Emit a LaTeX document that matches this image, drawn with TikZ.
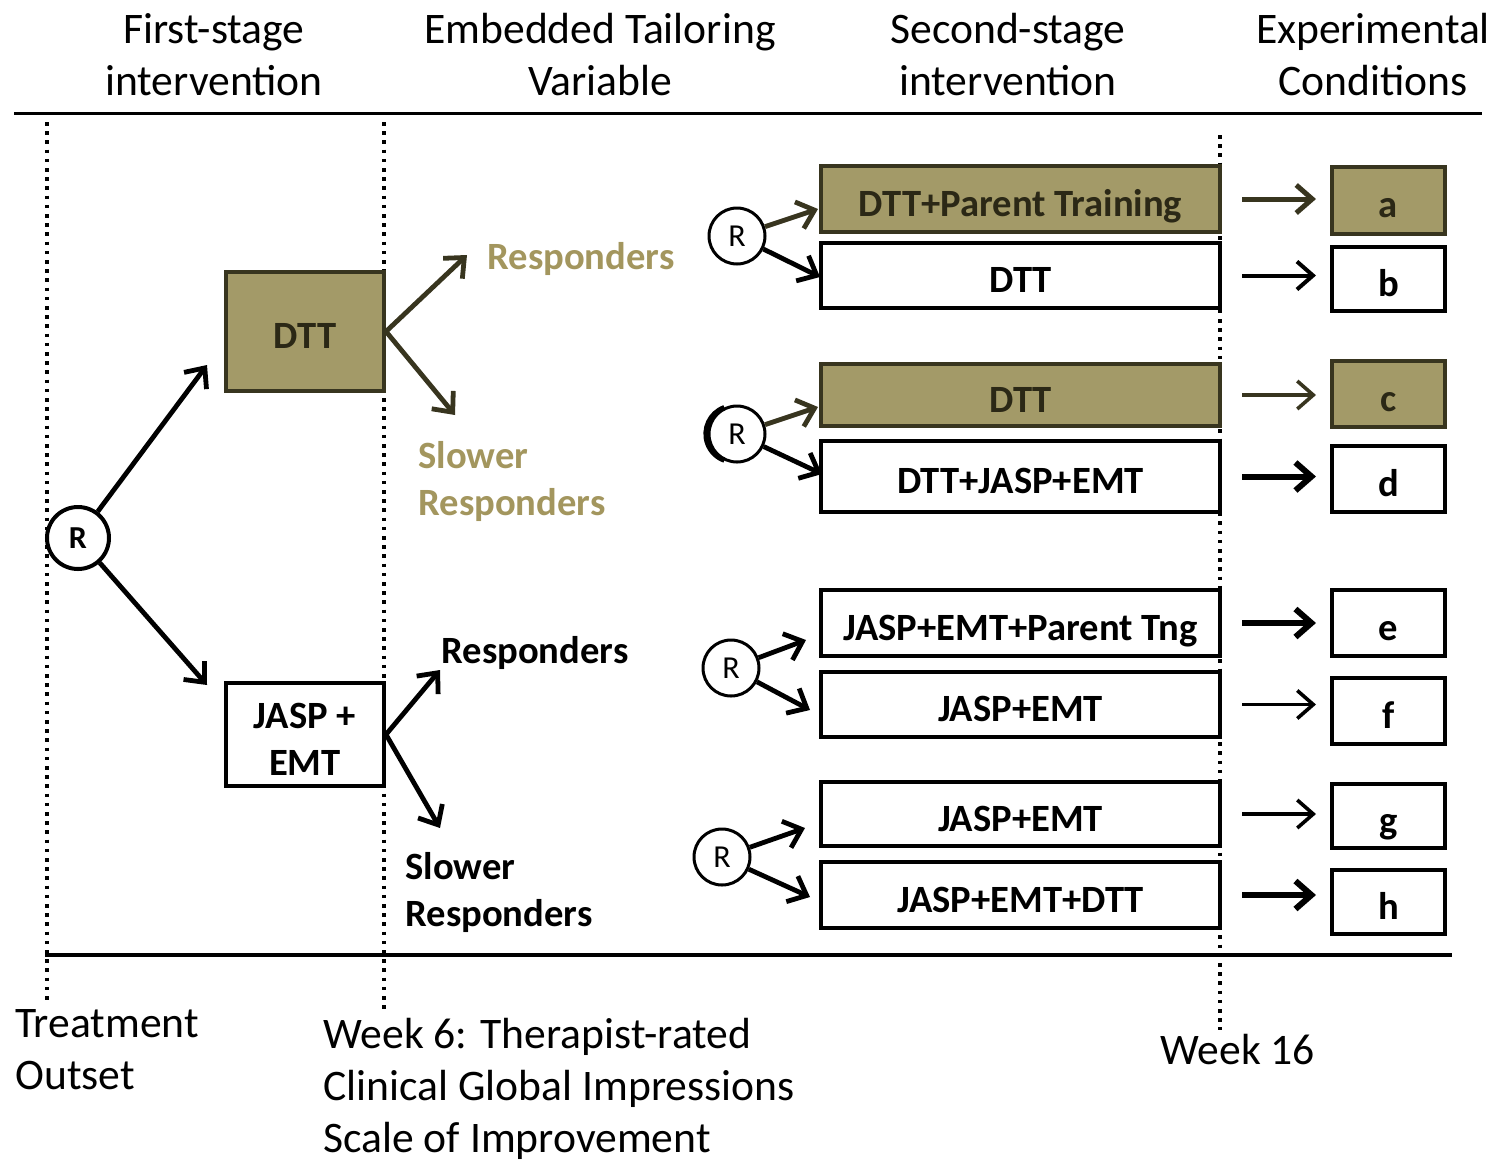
\documentclass[tikz,border=0pt]{standalone}
\usepackage{fontspec}
\setmainfont{Carlito}
\usetikzlibrary{arrows.meta,calc}
\definecolor{khaki}{HTML}{A39A68}
\definecolor{khakiline}{HTML}{38351F}
\definecolor{khakitext}{HTML}{2B2816}
\definecolor{khakilabel}{HTML}{A3965E}
\begin{document}
\begin{tikzpicture}[x=0.5pt,y=-0.5pt,
  head/.style={align=center,font=\fontsize{21.8}{26}\selectfont},
  foot/.style={align=left,anchor=west,inner sep=0pt,font=\fontsize{21.8}{26}\selectfont},
  lbl/.style={align=left,anchor=west,inner sep=0pt,font=\fontsize{19.3}{23.5}\selectfont\bfseries},
  box/.style={draw=black,line width=2pt,fill=white,inner sep=0pt,
    text height=18pt,text depth=1pt,
    font=\fontsize{19.3}{23.5}\selectfont\bfseries},
  stagebox/.style={box,minimum width=199.5pt},
  condbox/.style={box,minimum width=56.5pt},
  shaded/.style={fill=khaki,draw=khakiline,text=khakitext},
  rsmall/.style={circle,draw,fill=white,line width=1.5pt,minimum size=28pt,inner sep=0pt,
    font=\fontsize{16}{18}\selectfont},
  rbig/.style={circle,draw,fill=white,line width=2pt,minimum size=31pt,inner sep=0pt,
    font=\fontsize{16}{18}\selectfont\bfseries},
  arr/.style={line width=2.4pt,-{Straight Barb[length=8pt,width=14pt]}},
  darr/.style={arr,draw=khakiline},
  harr/.style={-{Straight Barb[length=8pt,width=14pt]},shorten <=10pt,shorten >=7pt},
  dots/.style={line width=1.8pt,dash pattern=on 1.8pt off 2.8pt}
]
\useasboundingbox (0,0) rectangle (1496,1164);

% column headings and rules
\node[head] (h1) at (214,55) {First-stage\\intervention};
\node[head] (h2) at (600,55) {Embedded Tailoring\\Variable};
\node[head] (h3) at (1008,55) {Second-stage\\intervention};
\node[head] (h4) at (1373,55) {Experimental\\Conditions};
\draw[line width=1.5pt] (14,113) -- (1482,113);
\draw[line width=2pt] (45,955) -- (1452,955);

% time markers
\draw[dots] (47,122) -- (47,1000);
\draw[dots] (384,122) -- (384,1010);
\draw[dots] (1220,135) -- (1220,1030);

% first-stage randomisation
\node[rbig] (R0) at (78,538) {R};
\node[box,shaded,minimum width=79pt,minimum height=59.5pt] (dtt) at (305,331.5) {DTT};
\node[box,minimum width=79pt,minimum height=51.5pt] (jasp) at (305,734.5) {};
\node[align=center,inner sep=0pt,font=\fontsize{19.3}{23.5}\selectfont\bfseries]
  (jasptext) at (305,739) {JASP +\\EMT};
\coordinate (t0a) at (207,365);
\coordinate (t0b) at (207,685);
\draw[arr] (R0) -- (t0a);
\draw[arr] (R0) -- (t0b);

% tailoring variable
\coordinate (ta) at (467,255);
\coordinate (tb) at (455,415);
\draw[darr] (dtt.east) -- (ta);
\draw[darr] (dtt.east) -- (tb);
\node[lbl,text=khakilabel] (resp1) at (487,259) {Responders};
\node[lbl,text=khakilabel] (slow1) at (418,481) {Slower\\Responders};
\coordinate (tc) at (440,670);
\coordinate (td) at (440,828);
\draw[arr] (jasp.east) -- (tc);
\draw[arr] (jasp.east) -- (td);
\node[lbl] (resp2) at (441,653) {Responders};
\node[lbl] (slow2) at (405,892) {Slower\\Responders};

% second-stage interventions
\node[stagebox,shaded,minimum height=33pt] (s1) at (1020.5,199) {DTT+Parent Training};
\node[stagebox,minimum height=32.5pt] (s2) at (1020.5,275.5) {DTT};
\node[stagebox,shaded,minimum height=31pt] (s3) at (1020.5,395) {DTT};
\node[stagebox,minimum height=35.5pt] (s4) at (1020.5,476.5) {DTT+JASP+EMT};
\node[stagebox,minimum height=33pt] (s5) at (1020.5,623) {JASP+EMT+Parent Tng};
\node[stagebox,minimum height=32.5pt] (s6) at (1020.5,704.5) {JASP+EMT};
\node[stagebox,minimum height=32pt] (s7) at (1020.5,814) {JASP+EMT};
\node[stagebox,minimum height=33pt] (s8) at (1020.5,895) {JASP+EMT+DTT};

% second-stage randomisations
\node[rsmall] (R1) at (737,236) {R};
\node[rsmall] (R2) at (737,434) {R};
\draw[line width=2.6pt] ($(R2.center)+(-6.3pt,13.2pt)$)
  arc[start angle=110,end angle=250,radius=14pt];
\node[rsmall] (R3) at (731,668) {R};
\node[rsmall] (R4) at (722,857) {R};

\coordinate (u1) at (818,209);
\coordinate (u2) at (820,277);
\coordinate (u3) at (818,407);
\coordinate (u4) at (822,474);
\coordinate (u5) at (806,640);
\coordinate (u6) at (810,710);
\coordinate (u7) at (805,828);
\coordinate (u8) at (810,897);
\draw[darr] (R1) -- (u1);
\draw[arr] (R1) -- (u2);
\draw[darr] (R2) -- (u3);
\draw[arr] (R2) -- (u4);
\draw[arr] (R3) -- (u5);
\draw[arr] (R3) -- (u6);
\draw[arr] (R4) -- (u7);
\draw[arr] (R4) -- (u8);

% experimental conditions
\node[condbox,shaded,minimum height=33.5pt] (ca) at (1388.5,200.5) {a};
\node[condbox,minimum height=32pt] (cb) at (1388.5,279) {b};
\node[condbox,shaded,minimum height=33pt] (cc) at (1388.5,394) {c};
\node[condbox,minimum height=33pt] (cd) at (1388.5,479) {d};
\node[condbox,minimum height=33pt] (ce) at (1388.5,623) {e};
\node[condbox,minimum height=33pt] (cf) at (1388.5,711) {f};
\node[condbox,minimum height=32pt] (cg) at (1388.5,816) {g};
\node[condbox,minimum height=32pt] (ch) at (1388.5,902) {h};

\draw[harr,line width=2.5pt,draw=khakiline] (s1.east) -- (s1.east -| ca.west);
\draw[harr,line width=2pt] (s2.east) -- (s2.east -| cb.west);
\draw[harr,line width=1.8pt,draw=khakiline] (s3.east) -- (s3.east -| cc.west);
\draw[harr,line width=3pt] (s4.east) -- (s4.east -| cd.west);
\draw[harr,line width=3pt] (s5.east) -- (s5.east -| ce.west);
\draw[harr,line width=1.8pt] (s6.east) -- (s6.east -| cf.west);
\draw[harr,line width=1.8pt] (s7.east) -- (s7.east -| cg.west);
\draw[harr,line width=3pt] (s8.east) -- (s8.east -| ch.west);

% time labels
\node[foot] (f1) at (15,1050) {Treatment\\Outset};
\node[foot] (f2) at (323,1089) {Week 6: Therapist-rated\\Clinical Global Impressions\\Scale of Improvement};
\node[foot] (f3) at (1160,1050) {Week 16};
\end{tikzpicture}
\end{document}
